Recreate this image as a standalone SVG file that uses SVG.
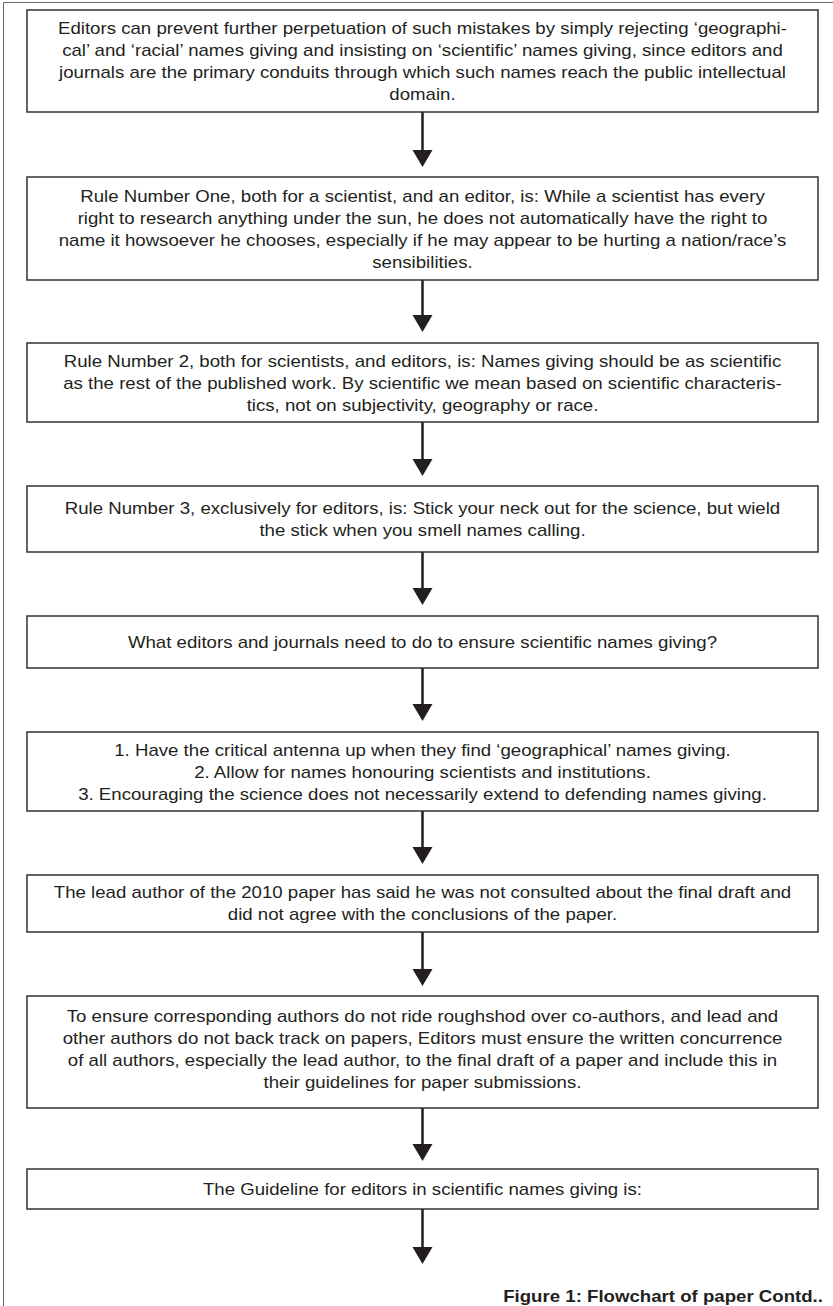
<svg xmlns="http://www.w3.org/2000/svg" width="833" height="1306" viewBox="0 0 833 1306">
<style>
.box{fill:#fff;stroke:#333;stroke-width:1.5}
.t{font-family:"Liberation Sans",Arial,sans-serif;font-size:16px;fill:#231f20;text-anchor:middle}
.cap{font-family:"Liberation Sans",Arial,sans-serif;font-size:16px;font-weight:bold;fill:#231f20;text-anchor:end}
.ln{stroke:#231f20;stroke-width:2.5;fill:none}
.hd{fill:#231f20}
.frame{stroke:#666;stroke-width:1;fill:none}
</style>
<rect width="833" height="1306" fill="#fff"/>
<path class="frame" d="M3.5,1306 V2.5 H833"/>
<g id="connectors">
<line class="ln" x1="422.5" y1="112" x2="422.5" y2="152"/><polygon class="hd" points="412.5,150 432.5,150 422.5,167"/>
<line class="ln" x1="422.5" y1="280" x2="422.5" y2="317"/><polygon class="hd" points="412.5,315 432.5,315 422.5,332"/>
<line class="ln" x1="422.5" y1="422" x2="422.5" y2="461"/><polygon class="hd" points="412.5,459 432.5,459 422.5,476"/>
<line class="ln" x1="422.5" y1="552" x2="422.5" y2="590"/><polygon class="hd" points="412.5,588 432.5,588 422.5,605"/>
<line class="ln" x1="422.5" y1="668" x2="422.5" y2="706"/><polygon class="hd" points="412.5,704 432.5,704 422.5,721"/>
<line class="ln" x1="422.5" y1="811" x2="422.5" y2="849"/><polygon class="hd" points="412.5,847 432.5,847 422.5,864"/>
<line class="ln" x1="422.5" y1="932" x2="422.5" y2="971"/><polygon class="hd" points="412.5,969 432.5,969 422.5,986"/>
<line class="ln" x1="422.5" y1="1108" x2="422.5" y2="1146"/><polygon class="hd" points="412.5,1144 432.5,1144 422.5,1161"/>
<line class="ln" x1="422.5" y1="1209" x2="422.5" y2="1249"/><polygon class="hd" points="412.5,1247 432.5,1247 422.5,1264"/>
</g>
<g id="n1">
<rect class="box" x="27" y="10" width="791" height="102"/>
<g transform="matrix(1.165 0 0 1 -69.71 0)">
<text class="t" x="422.5" y="34.5">Editors can prevent further perpetuation of such mistakes by simply rejecting ‘geographi-</text>
<text class="t" x="422.5" y="56.5">cal’ and ‘racial’ names giving and insisting on ‘scientific’ names giving, since editors and</text>
<text class="t" x="422.5" y="78.5">journals are the primary conduits through which such names reach the public intellectual</text>
<text class="t" x="422.5" y="100.5">domain.</text>
</g>
</g>
<g id="n2">
<rect class="box" x="27" y="177" width="791" height="103"/>
<g transform="matrix(1.165 0 0 1 -69.71 0)">
<text class="t" x="422.5" y="202">Rule Number One, both for a scientist, and an editor, is: While a scientist has every</text>
<text class="t" x="422.5" y="224">right to research anything under the sun, he does not automatically have the right to</text>
<text class="t" x="422.5" y="246">name it howsoever he chooses, especially if he may appear to be hurting a nation/race’s</text>
<text class="t" x="422.5" y="268">sensibilities.</text>
</g>
</g>
<g id="n3">
<rect class="box" x="27" y="343" width="791" height="79"/>
<g transform="matrix(1.165 0 0 1 -69.71 0)">
<text class="t" x="422.5" y="367">Rule Number 2, both for scientists, and editors, is: Names giving should be as scientific</text>
<text class="t" x="422.5" y="389">as the rest of the published work. By scientific we mean based on scientific characteris-</text>
<text class="t" x="422.5" y="411">tics, not on subjectivity, geography or race.</text>
</g>
</g>
<g id="n4">
<rect class="box" x="27" y="486" width="791" height="66"/>
<g transform="matrix(1.165 0 0 1 -69.71 0)">
<text class="t" x="422.5" y="514.5">Rule Number 3, exclusively for editors, is: Stick your neck out for the science, but wield</text>
<text class="t" x="422.5" y="536.5">the stick when you smell names calling.</text>
</g>
</g>
<g id="n5">
<rect class="box" x="27" y="616" width="791" height="52"/>
<g transform="matrix(1.165 0 0 1 -69.71 0)">
<text class="t" x="422.5" y="648">What editors and journals need to do to ensure scientific names giving?</text>
</g>
</g>
<g id="n6">
<rect class="box" x="27" y="732" width="791" height="79"/>
<g transform="matrix(1.165 0 0 1 -69.71 0)">
<text class="t" x="422.5" y="756">1. Have the critical antenna up when they find ‘geographical’ names giving.</text>
<text class="t" x="422.5" y="778">2. Allow for names honouring scientists and institutions.</text>
<text class="t" x="422.5" y="800">3. Encouraging the science does not necessarily extend to defending names giving.</text>
</g>
</g>
<g id="n7">
<rect class="box" x="27" y="875" width="791" height="57"/>
<g transform="matrix(1.165 0 0 1 -69.71 0)">
<text class="t" x="422.5" y="898.5">The lead author of the 2010 paper has said he was not consulted about the final draft and</text>
<text class="t" x="422.5" y="920.5">did not agree with the conclusions of the paper.</text>
</g>
</g>
<g id="n8">
<rect class="box" x="27" y="996" width="791" height="112"/>
<g transform="matrix(1.165 0 0 1 -69.71 0)">
<text class="t" x="422.5" y="1022">To ensure corresponding authors do not ride roughshod over co-authors, and lead and</text>
<text class="t" x="422.5" y="1044">other authors do not back track on papers, Editors must ensure the written concurrence</text>
<text class="t" x="422.5" y="1066">of all authors, especially the lead author, to the final draft of a paper and include this in</text>
<text class="t" x="422.5" y="1088">their guidelines for paper submissions.</text>
</g>
</g>
<g id="n9">
<rect class="box" x="27" y="1169" width="791" height="40"/>
<g transform="matrix(1.165 0 0 1 -69.71 0)">
<text class="t" x="422.5" y="1195">The Guideline for editors in scientific names giving is:</text>
</g>
</g>
<g id="caption" transform="matrix(1.165 0 0 1 -135.8 0)">
<text class="cap" x="823" y="1302.5">Figure 1: Flowchart of paper Contd..</text>
</g>
</svg>
